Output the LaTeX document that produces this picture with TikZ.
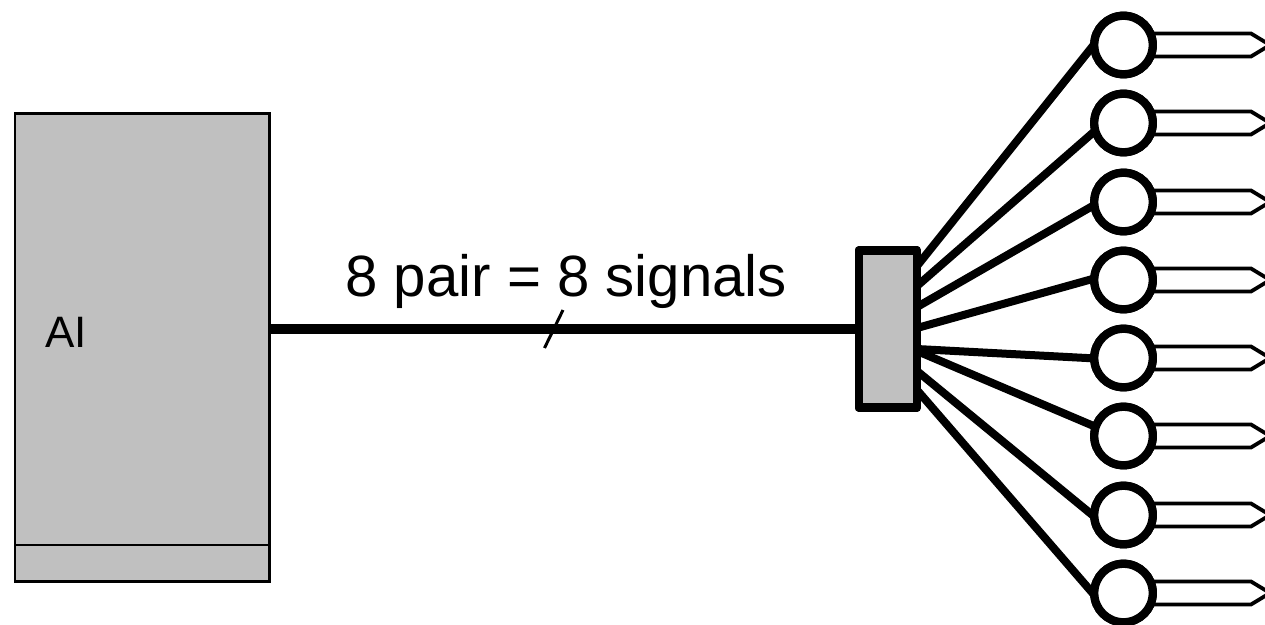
\documentclass[tikz,border=0pt]{standalone}
\usepackage{fontspec}
\setmainfont{Liberation Sans}
\definecolor{boxgray}{HTML}{C0C0C0}
\tikzset{
  graybox/.style={draw=black,fill=boxgray,line width=2.6pt,inner sep=0pt,outer sep=0pt},
  hubbox/.style={draw=black,fill=boxgray,line width=8.5pt,line join=round,inner sep=0pt,outer sep=0pt,minimum width=58pt,minimum height=157pt},
  ring/.style={circle,draw=black,fill=white,line width=8.3pt,inner sep=0pt,outer sep=0pt,minimum size=58.5pt},
  fan/.style={line width=8pt},
  trunk/.style={line width=10pt},
  probe/.style={draw=black,line width=3.8pt,line join=miter},
  slash/.style={line width=3pt},
  lab/.style={inner sep=0pt,outer sep=0pt,anchor=base west}
}
\begin{document}
\begin{tikzpicture}[x=1pt,y=-1pt]
\useasboundingbox (0,0) rectangle (1265,624);
\node[graybox,minimum width=254.5pt,minimum height=468pt] (ai) at (142.3,347.3) {};
\coordinate (sepL) at (15,545);
\coordinate (sepR) at (270,545);
\draw[line width=2.6pt] (sepL) -- (sepR);
\node[lab,font=\fontsize{44pt}{44pt}\selectfont] (ailab) at (45,347) {AI};
\node[hubbox] (hub) at (887.75,329) {};
\draw[trunk] (ai.east |- hub.west) -- (hub.west);
\node[lab,font=\fontsize{58.2pt}{59pt}\selectfont] (sig) at (345.5,296) {8 pair = 8 signals};
\coordinate (sa) at (563,310);
\coordinate (sb) at (544.5,348);
\draw[slash] (sa) -- (sb);
\foreach \i/\y/\sy/\ey in {1/45/266/42,2/123/286/130,3/202/307/204,4/280/328/278,5/358/349/358.5,6/436/351/427,7/515/371/518,8/593/390/597}{
  \coordinate (s\i) at (917,\sy);
  \node[ring] (c\i) at (1123.5,\y) {};
  \coordinate (e\i) at (1096,\ey);
  \draw[fan] (s\i) -- (e\i);
  \node[ring] at (c\i) {};
  \coordinate (pa\i) at (1153,\y-11.5);
  \coordinate (pb\i) at (1251,\y-11.5);
  \coordinate (pt\i) at (1270,\y);
  \coordinate (pc\i) at (1251,\y+11.5);
  \coordinate (pd\i) at (1153,\y+11.5);
  \draw[probe] (pa\i) -- (pb\i) -- (pt\i) -- (pc\i) -- (pd\i);
}
\node[hubbox] at (hub) {};
\end{tikzpicture}
\end{document}
